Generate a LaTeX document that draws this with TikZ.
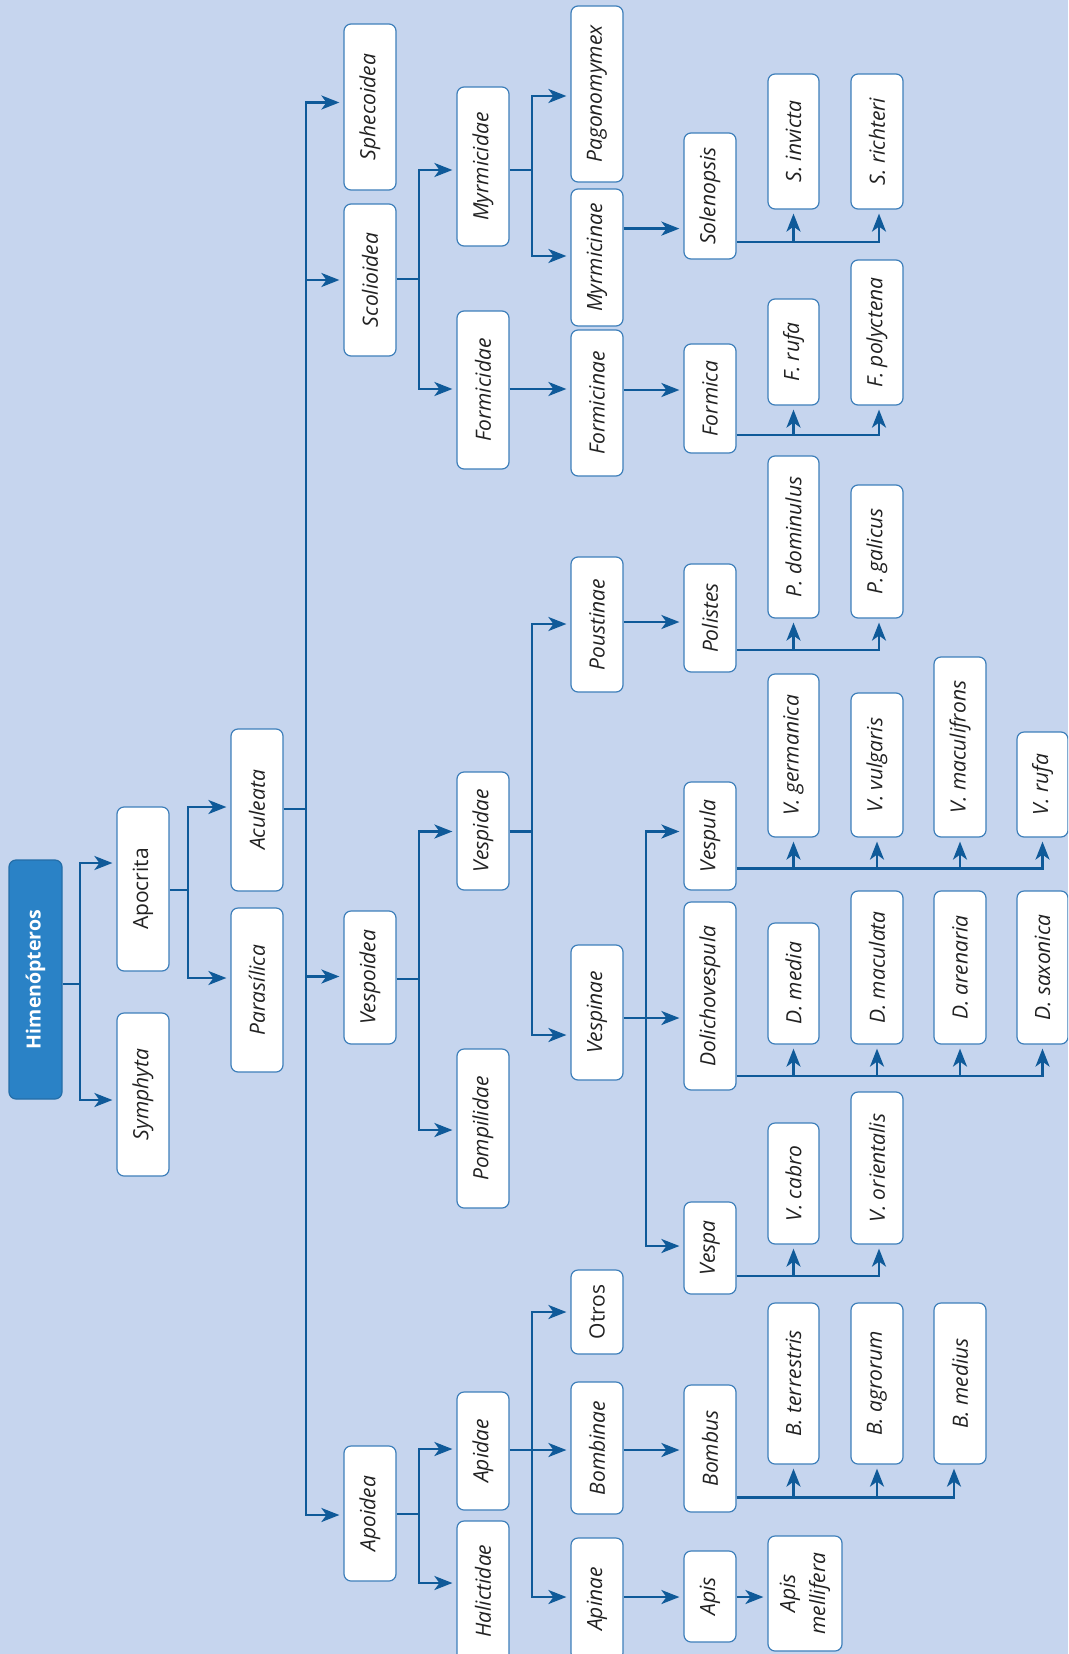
\documentclass[tikz,border=0pt]{standalone}
\usepackage{fontspec}
\setmainfont{Open Sans}
\usetikzlibrary{arrows.meta}
\definecolor{bg}{HTML}{C6D5EE}
\definecolor{lineblue}{HTML}{0F5A99}
\definecolor{boxblue}{HTML}{3E7FBA}
\definecolor{rootblue}{HTML}{2A82C6}
\definecolor{txt}{HTML}{222222}
\newcommand\rt[1]{\rotatebox{90}{#1}}
\begin{document}
\begin{tikzpicture}[x=1pt,y=-1pt,
 box/.style={draw=boxblue, line width=1.2pt, fill=white, rounded corners=7pt, minimum width=52pt, inner sep=0pt, text=txt, font=\fontsize{21}{25}\selectfont\itshape},
 upbox/.style={box, font=\fontsize{21}{25}\selectfont},
 rootbox/.style={box, fill=rootblue, draw=rootblue!85!black, text=white, font=\fontsize{19.5}{23}\selectfont\bfseries},
 conn/.style={draw=lineblue, line width=2.4pt},
 arr/.style={conn, -{Stealth[length=18pt,width=14pt,inset=5pt]}, shorten >=4pt}]
\fill[bg] (0,0) rectangle (1068,1654);
\useasboundingbox (0,0) rectangle (1068,1654);
\clip (0,0) rectangle (1068,1654);
% column 0-2
\node[rootbox, minimum width=53pt, minimum height=239pt] (himen) at (35.5,979.5) {\rt{Himenópteros}};
\node[upbox, minimum height=164pt] (apocrita) at (143,889) {\rt{Apocrita}};
\node[box, minimum height=163pt] (symphyta) at (143,1094.5) {\rt{Symphyta}};
\node[box, minimum height=162pt] (aculeata) at (257,810) {\rt{Aculeata}};
\node[box, minimum height=164pt] (parasilica) at (257,990) {\rt{Parasílica}};
% column 3
\node[box, minimum height=166pt] (sphecoidea) at (370,107) {\rt{Sphecoidea}};
\node[box, minimum height=152pt] (scolioidea) at (370,280) {\rt{Scolioidea}};
\node[box, minimum height=133pt] (vespoidea) at (370,977.5) {\rt{Vespoidea}};
\node[box, minimum height=135pt] (apoidea) at (370,1513.5) {\rt{Apoidea}};
% column 4
\node[box, minimum height=159pt] (myrmicidae) at (483,166.5) {\rt{Myrmicidae}};
\node[box, minimum height=158pt] (formicidae) at (483,390) {\rt{Formicidae}};
\node[box, minimum height=118pt] (vespidae) at (483,831) {\rt{Vespidae}};
\node[box, minimum height=159pt] (pompilidae) at (483,1128.5) {\rt{Pompilidae}};
\node[box, minimum height=118pt] (apidae) at (483,1451) {\rt{Apidae}};
\node[box, minimum height=140pt] (halictidae) at (483,1591) {\rt{Halictidae}};
% column 5
\node[box, minimum height=176pt] (pagonomymex) at (597,94) {\rt{Pagonomymex}};
\node[box, minimum height=137pt] (myrmicinae) at (597,257.5) {\rt{Myrmicinae}};
\node[box, minimum height=146pt] (formicinae) at (597,403) {\rt{Formicinae}};
\node[box, minimum height=135pt] (poustinae) at (597,624.5) {\rt{Poustinae}};
\node[box, minimum height=135pt] (vespinae) at (597,1012.5) {\rt{Vespinae}};
\node[upbox, minimum height=84pt] (otros) at (597,1312) {\rt{Otros}};
\node[box, minimum height=132pt] (bombinae) at (597,1448) {\rt{Bombinae}};
\node[box, minimum height=122pt] (apinae) at (597,1599) {\rt{Apinae}};
% column 6
\node[box, minimum height=126pt] (solenopsis) at (710,196) {\rt{Solenopsis}};
\node[box, minimum height=109pt] (formica) at (710,398.5) {\rt{Formica}};
\node[box, minimum height=108pt] (polistes) at (710,618) {\rt{Polistes}};
\node[box, minimum height=108pt] (vespula) at (710,836) {\rt{Vespula}};
\node[box, minimum height=188pt] (dolicho) at (710,996) {\rt{Dolichovespula}};
\node[box, minimum height=92pt] (vespa) at (710,1248) {\rt{Vespa}};
\node[box, minimum height=127pt] (bombus) at (710,1448.5) {\rt{Bombus}};
\node[box, minimum height=91pt] (apis) at (710,1596.5) {\rt{Apis}};
% species column a
\node[box, minimum width=51pt, minimum height=135pt] (sinvicta) at (793.5,141.5) {\rt{S. invicta}};
\node[box, minimum width=51pt, minimum height=106pt] (frufa) at (793.5,352) {\rt{F. rufa}};
\node[box, minimum width=51pt, minimum height=162pt] (pdominulus) at (793.5,537) {\rt{P. dominulus}};
\node[box, minimum width=51pt, minimum height=163pt] (vgermanica) at (793.5,755.5) {\rt{V. germanica}};
\node[box, minimum width=51pt, minimum height=121pt] (dmedia) at (793.5,983.5) {\rt{D. media}};
\node[box, minimum width=51pt, minimum height=121pt] (vcabro) at (793.5,1183.5) {\rt{V. cabro}};
\node[box, minimum width=51pt, minimum height=161pt] (bterrestris) at (793.5,1383.5) {\rt{B. terrestris}};
\node[box, minimum width=74pt, minimum height=115pt] (apismell) at (805,1593.5) {\rt{\begin{tabular}{@{}c@{}}Apis\\[5pt]mellifera\end{tabular}}};
% species column b
\node[box, minimum height=135pt] (srichteri) at (877,141.5) {\rt{S. richteri}};
\node[box, minimum height=145pt] (fpolyctena) at (877,332.5) {\rt{F. polyctena}};
\node[box, minimum height=133pt] (pgalicus) at (877,551.5) {\rt{P. galicus}};
\node[box, minimum height=144pt] (vvulgaris) at (877,765) {\rt{V. vulgaris}};
\node[box, minimum height=153pt] (dmaculata) at (877,967.5) {\rt{D. maculata}};
\node[box, minimum height=152pt] (vorientalis) at (877,1168) {\rt{V. orientalis}};
\node[box, minimum height=161pt] (bagrorum) at (877,1383.5) {\rt{B. agrorum}};
% species column c
\node[box, minimum height=180pt] (vmaculifrons) at (960,747) {\rt{V. maculifrons}};
\node[box, minimum height=153pt] (darenaria) at (960,967.5) {\rt{D. arenaria}};
\node[box, minimum height=161pt] (bmedius) at (960,1383.5) {\rt{B. medius}};
% species column d
\node[box, minimum width=51pt, minimum height=105pt] (vrufa) at (1042.5,784.5) {\rt{V. rufa}};
\node[box, minimum width=51pt, minimum height=153pt] (dsaxonica) at (1042.5,967.5) {\rt{D. saxonica}};
% junctions
\coordinate (j0) at (80,984);
\coordinate (j1) at (188,890);
\coordinate (j2) at (306,809);
\coordinate (j3) at (419,279);
\coordinate (j4) at (419,979);
\coordinate (j5) at (419,1514);
\coordinate (j6) at (532,170);
\coordinate (j7) at (532,831.5);
\coordinate (j8) at (532,1450);
\coordinate (j9) at (646,1018);
% root
\draw[conn] (himen.east |- j0) -- (j0);
\draw[arr] (j0) |- (apocrita.west |- 0,863);
\draw[arr] (j0) |- (symphyta.west |- 0,1100);
% apocrita
\draw[conn] (apocrita.east |- j1) -- (j1);
\draw[arr] (j1) |- (aculeata.west |- 0,807);
\draw[arr] (j1) |- (parasilica.west |- 0,978);
% aculeata
\draw[conn] (aculeata.east |- j2) -- (j2);
\draw[arr] (j2) |- (sphecoidea.west |- 0,102.5);
\draw[arr] (j2) |- (scolioidea.west |- 0,280);
\draw[arr] (j2) |- (vespoidea.west |- 0,976.5);
\draw[arr] (j2) |- (apoidea.west |- 0,1515);
% scolioidea
\draw[conn] (scolioidea.east |- j3) -- (j3);
\draw[arr] (j3) |- (myrmicidae.west |- 0,170);
\draw[arr] (j3) |- (formicidae.west |- 0,389);
% vespoidea
\draw[conn] (vespoidea.east |- j4) -- (j4);
\draw[arr] (j4) |- (vespidae.west |- 0,831.5);
\draw[arr] (j4) |- (pompilidae.west |- 0,1130);
% apoidea
\draw[conn] (apoidea.east |- j5) -- (j5);
\draw[arr] (j5) |- (apidae.west |- 0,1449);
\draw[arr] (j5) |- (halictidae.west |- 0,1583);
% myrmicidae
\draw[conn] (myrmicidae.east |- j6) -- (j6);
\draw[arr] (j6) |- (pagonomymex.west |- 0,96);
\draw[arr] (j6) |- (myrmicinae.west |- 0,256);
% formicidae
\draw[arr] (formicidae.east |- 0,389) -- (formicinae.west |- 0,389);
% vespidae
\draw[conn] (vespidae.east |- j7) -- (j7);
\draw[arr] (j7) |- (poustinae.west |- 0,624);
\draw[arr] (j7) |- (vespinae.west |- 0,1035);
% apidae
\draw[conn] (apidae.east |- j8) -- (j8);
\draw[arr] (j8) |- (otros.west |- 0,1312);
\draw[arr] (j8) |- (bombinae.west |- 0,1450);
\draw[arr] (j8) |- (apinae.west |- 0,1597);
% column 5 -> 6
\draw[arr] (myrmicinae.east |- 0,228.6) -- (solenopsis.west |- 0,228.6);
\draw[arr] (formicinae.east |- 0,390) -- (formica.west |- 0,390);
\draw[arr] (poustinae.east |- 0,622) -- (polistes.west |- 0,622);
\draw[conn] (vespinae.east |- j9) -- (j9);
\draw[arr] (j9) |- (vespula.west |- 0,831.5);
\draw[arr] (j9) |- (dolicho.west |- 0,1018);
\draw[arr] (j9) |- (vespa.west |- 0,1246);
\draw[arr] (bombinae.east |- 0,1450) -- (bombus.west |- 0,1450);
\draw[arr] (apinae.east |- 0,1597) -- (apis.west |- 0,1597);
\draw[arr] (apis.east |- 0,1597) -- (apismell.west |- 0,1597);
% species connectors
\draw[arr] (solenopsis.east |- 0,242) -| ([xshift=2pt]srichteri.south);
\draw[arr] (sinvicta.south |- 0,242) -- (sinvicta.south);
\draw[arr] (formica.east |- 0,435) -| ([xshift=2pt]fpolyctena.south);
\draw[arr] (frufa.south |- 0,435) -- (frufa.south);
\draw[arr] (polistes.east |- 0,650) -| ([xshift=2pt]pgalicus.south);
\draw[arr] (pdominulus.south |- 0,650) -- (pdominulus.south);
\draw[arr] (vespula.east |- 0,868.5) -| (vrufa.south);
\draw[arr] (vgermanica.south |- 0,868.5) -- (vgermanica.south);
\draw[arr] (vvulgaris.south |- 0,868.5) -- (vvulgaris.south);
\draw[arr] (vmaculifrons.south |- 0,868.5) -- (vmaculifrons.south);
\draw[arr] (dolicho.east |- 0,1076) -| (dsaxonica.south);
\draw[arr] (dmedia.south |- 0,1076) -- (dmedia.south);
\draw[arr] (dmaculata.south |- 0,1076) -- (dmaculata.south);
\draw[arr] (darenaria.south |- 0,1076) -- (darenaria.south);
\draw[arr] (vespa.east |- 0,1276) -| ([xshift=2pt]vorientalis.south);
\draw[arr] (vcabro.south |- 0,1276) -- (vcabro.south);
\draw[arr] (bombus.east |- 0,1497.5) -| ([xshift=-6pt]bmedius.south);
\draw[arr] (bterrestris.south |- 0,1497.5) -- (bterrestris.south);
\draw[arr] (bagrorum.south |- 0,1497.5) -- (bagrorum.south);
\end{tikzpicture}
\end{document}
